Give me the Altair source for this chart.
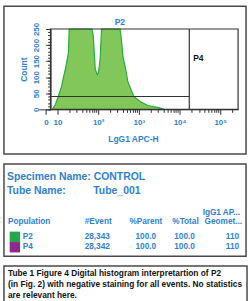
import math
import altair as alt
import pandas as pd

# ---------------- data ----------------
# histogram: position in log10 decades of intensity, event count
hist_decade = [0.88, 0.95, 1.02, 1.10, 1.15, 1.20, 1.24, 1.27, 1.29, 1.35,
               1.45, 1.55, 1.65, 1.75, 1.85, 1.88, 1.93, 1.98, 2.01, 2.05,
               2.085, 2.15, 2.25, 2.35, 2.45, 2.54, 2.57, 2.61, 2.68, 2.73,
               2.83, 2.88, 3.02, 3.22, 3.46, 3.63]
hist_count = [0, 15, 40, 70, 100, 128, 155, 175, 280, 330,
              360, 350, 340, 320, 290, 230, 125, 108, 115, 157,
              260, 320, 360, 350, 310, 270, 220, 165, 123, 86,
              55, 40, 25, 12, 6, 0]

# gates
p2_gate = {"name": "P2", "x0": 0.83, "x1": 4.24, "y": 40}
p4_gate = {"name": "P4", "x0": 4.24, "x1": 5.44}
plot_x = [0.83, 5.44]
plot_y = [0, 250]

# axis ticks
x_major = [0.72, 1, 2, 3, 4, 5]
x_labels = ["0", "10", "10²", "10³", "10⁴", "10⁵"]
x_minor = [math.log10(k * 10 ** n) for n in range(1, 6) for k in range(2, 10)
           if math.log10(k * 10 ** n) < 5.42]
y_major = [0, 50, 100, 150, 200, 250]
y_minor = list(range(0, 251, 10))

# statistics table
specimen_name = "CONTROL"
tube_name = "Tube_001"
populations = ["P2", "P4"]
pop_colors = ["#22a84a", "#8c2a8e"]
events = ["28,343", "28,342"]
pct_parent = ["100.0", "100.0"]
pct_total = ["100.0", "100.0"]
geo_mean = ["110", "110"]
headers = ["Population", "#Event", "%Parent", "%Total", "Geomet..."]
header_top = "IgG1 AP..."

caption_lines = [
    "Tube 1 Figure 4 Digital histogram interpretartion of P2",
    "(in Fig. 2) with negative staining for all events. No statistics",
    "are relevant here.",
]

# ---------------- style ----------------
BLUE = "#2f7fd2"
FONT = "Liberation Sans"
DARK = "#333333"
FILL = "#82c75a"
LINE = "#25ad3d"

# ---------------- panel 1: histogram ----------------
W1, H1 = 244, 149
xscale = alt.Scale(domain=[0.54, 5.44], range=[35, 236], nice=False, zero=False)
yscale = alt.Scale(domain=[0, 250], range=[104, 23], nice=False, zero=False, clamp=True)

label_expr = "[%s][indexof([%s], datum.value)]" % (
    ",".join("'%s'" % s for s in x_labels), ",".join(str(v) for v in x_major))

ax_x_major = alt.Axis(values=x_major, labelExpr=label_expr, orient="bottom", offset=-45,
                      tickSize=5, tickColor=DARK, domainColor=DARK, labelColor=BLUE,
                      labelFont=FONT, labelFontSize=8, labelFontWeight="bold",
                      labelPadding=4, labelFlush=False, labelOverlap=False,
                      title="LgG1 APC-H", titleColor=BLUE, titleFont=FONT,
                      titleFontSize=8.5, titleFontWeight="bold", titlePadding=8,
                      titleX=130, grid=False, zindex=1)
ax_x_minor = alt.Axis(values=x_minor, orient="bottom", offset=-45, tickSize=3,
                      tickColor=DARK, labels=False, domain=False, title=None,
                      grid=False, zindex=1)
ax_y_major = alt.Axis(values=y_major, orient="left", offset=-47, tickSize=5,
                      tickColor=DARK, domainColor=DARK, labelColor=BLUE,
                      labelFont=FONT, labelFontSize=8, labelFontWeight="bold",
                      labelAngle=270, labelAlign="center", labelBaseline="bottom",
                      labelPadding=5, labelFlush=False, labelOverlap=False,
                      title="Count", titleColor=BLUE, titleFont=FONT,
                      titleFontSize=8.5, titleFontWeight="bold", titlePadding=4,
                      grid=False, zindex=1)
ax_y_minor = alt.Axis(values=y_minor, orient="left", offset=-47, tickSize=3,
                      tickColor=DARK, labels=False, domain=False, title=None,
                      grid=False, zindex=1)

hist_df = pd.DataFrame({"decade": hist_decade, "count": hist_count})
area = alt.Chart(hist_df).mark_area(
    color=FILL, opacity=1, line={"color": LINE, "strokeWidth": 1.2}
).encode(
    x=alt.X("decade:Q", scale=xscale, axis=ax_x_major),
    y=alt.Y("count:Q", scale=yscale, axis=ax_y_major),
)

frame_df = pd.DataFrame({"x0": [plot_x[0]], "x1": [plot_x[1]],
                         "y0": [plot_y[0]], "y1": [plot_y[1]]})
frame = alt.Chart(frame_df).mark_rect(fillOpacity=0, stroke=DARK, strokeWidth=1.2).encode(
    x=alt.X("x0:Q", scale=xscale, axis=ax_x_minor), x2="x1:Q",
    y=alt.Y("y0:Q", scale=yscale, axis=ax_y_minor), y2="y1:Q",
)

p2_df = pd.DataFrame([p2_gate])
p2_rule = alt.Chart(p2_df).mark_rule(color=DARK, strokeWidth=1.2).encode(
    x=alt.X("x0:Q", scale=xscale, axis=None), x2="x1:Q",
    y=alt.Y("y:Q", scale=yscale, axis=None),
)
p2_df["xm"] = (p2_df["x0"] + p2_df["x1"]) / 2
p2_df["ytop"] = plot_y[1]
p2_label = alt.Chart(p2_df).mark_text(
    color=BLUE, font=FONT, fontSize=8.5, fontWeight="bold", dy=-7, baseline="middle"
).encode(
    x=alt.X("xm:Q", scale=xscale, axis=None),
    y=alt.Y("ytop:Q", scale=yscale, axis=None),
    text="name:N",
)

p4_df = pd.DataFrame([p4_gate])
p4_df["y0"] = plot_y[0]
p4_df["y1"] = plot_y[1]
p4_df["ylab"] = 160
p4_rule = alt.Chart(p4_df).mark_rule(color=DARK, strokeWidth=1.2).encode(
    x=alt.X("x0:Q", scale=xscale, axis=None),
    y=alt.Y("y0:Q", scale=yscale, axis=None), y2="y1:Q",
)
p4_label = alt.Chart(p4_df).mark_text(
    color="#111111", font=FONT, fontSize=8.5, fontWeight="bold", dx=4,
    align="left", baseline="middle"
).encode(
    x=alt.X("x0:Q", scale=xscale, axis=None),
    y=alt.Y("ylab:Q", scale=yscale, axis=None),
    text="name:N",
)

panel1 = alt.layer(area, frame, p2_rule, p4_rule, p2_label, p4_label).resolve_axis(
    x="independent", y="independent"
).properties(width=W1, height=H1)

# ---------------- panel 2: statistics ----------------
W2, H2 = 244, 93
tbl = pd.DataFrame({"pop": populations, "color": pop_colors, "events": events,
                    "parent": pct_parent, "total": pct_total, "geo": geo_mean,
                    "row": list(range(len(populations)))})
yrow = alt.Y("row:Q", scale=alt.Scale(domain=[0, 1], range=[73.5, 84], nice=False,
                                      zero=False), axis=None)
txt = dict(color=BLUE, font=FONT, fontSize=8.3, fontWeight="bold", baseline="middle")

def col_text(field, xpos, align):
    return alt.Chart(tbl).mark_text(align=align, **txt).encode(
        x=alt.value(xpos), y=yrow, text=f"{field}:N")

squares = alt.Chart(tbl).mark_square(size=110, opacity=1, filled=True).encode(
    x=alt.value(11), y=yrow,
    color=alt.Color("pop:N", scale=alt.Scale(domain=populations, range=pop_colors),
                    legend=None),
)

info_df = pd.DataFrame({"t": ["Specimen Name: " + specimen_name, "Tube Name:", tube_name],
                        "x": [3, 3, 90], "y": [13, 27, 27]})
info = alt.Chart(info_df).mark_text(
    align="left", color=BLUE, font=FONT, fontSize=10.5, fontWeight="bold", baseline="middle"
).encode(x=alt.X("x:Q", scale=alt.Scale(domain=[0, W2], range=[0, W2]), axis=None),
         y=alt.Y("y:Q", scale=alt.Scale(domain=[0, H2], range=[0, H2]), axis=None),
         text="t:N")

def head(label, xpos, ypos, align):
    return alt.Chart(pd.DataFrame({"t": [label]})).mark_text(align=align, **txt).encode(
        x=alt.value(xpos), y=alt.value(ypos), text="t:N")

panel2 = alt.layer(
    info,
    head(header_top, 238, 49, "right"),
    head(headers[0], 4, 58.5, "left"),
    head(headers[1], 95, 58.5, "center"),
    head(headers[2], 143, 58.5, "center"),
    head(headers[3], 183, 58.5, "center"),
    head(headers[4], 240, 58.5, "right"),
    squares,
    col_text("pop", 19, "left"),
    col_text("events", 94, "center"),
    col_text("parent", 143, "center"),
    col_text("total", 182, "center"),
    col_text("geo", 237, "right"),
).resolve_scale(x="independent", y="independent").properties(width=W2, height=H2)

# ---------------- panel 3: caption ----------------
W3, H3 = 245, 36
cap_df = pd.DataFrame({"line": caption_lines, "i": list(range(len(caption_lines)))})
panel3 = alt.Chart(cap_df).mark_text(
    align="left", baseline="middle", color="#111111", font=FONT, fontSize=8.4,
    fontWeight="bold"
).encode(
    x=alt.value(4),
    y=alt.Y("i:Q", scale=alt.Scale(domain=[0, 2], range=[7, 29], nice=False, zero=False),
            axis=None),
    text="line:N",
).properties(width=W3, height=H3)

chart = alt.vconcat(panel1, panel2, panel3, spacing=8).properties(
    padding={"left": 3, "top": 4, "right": 2, "bottom": 0}
).configure_view(stroke="#4a4a4a", strokeWidth=1.5)

chart.save("out.html", embed_options={"renderer": "svg", "actions": False})
